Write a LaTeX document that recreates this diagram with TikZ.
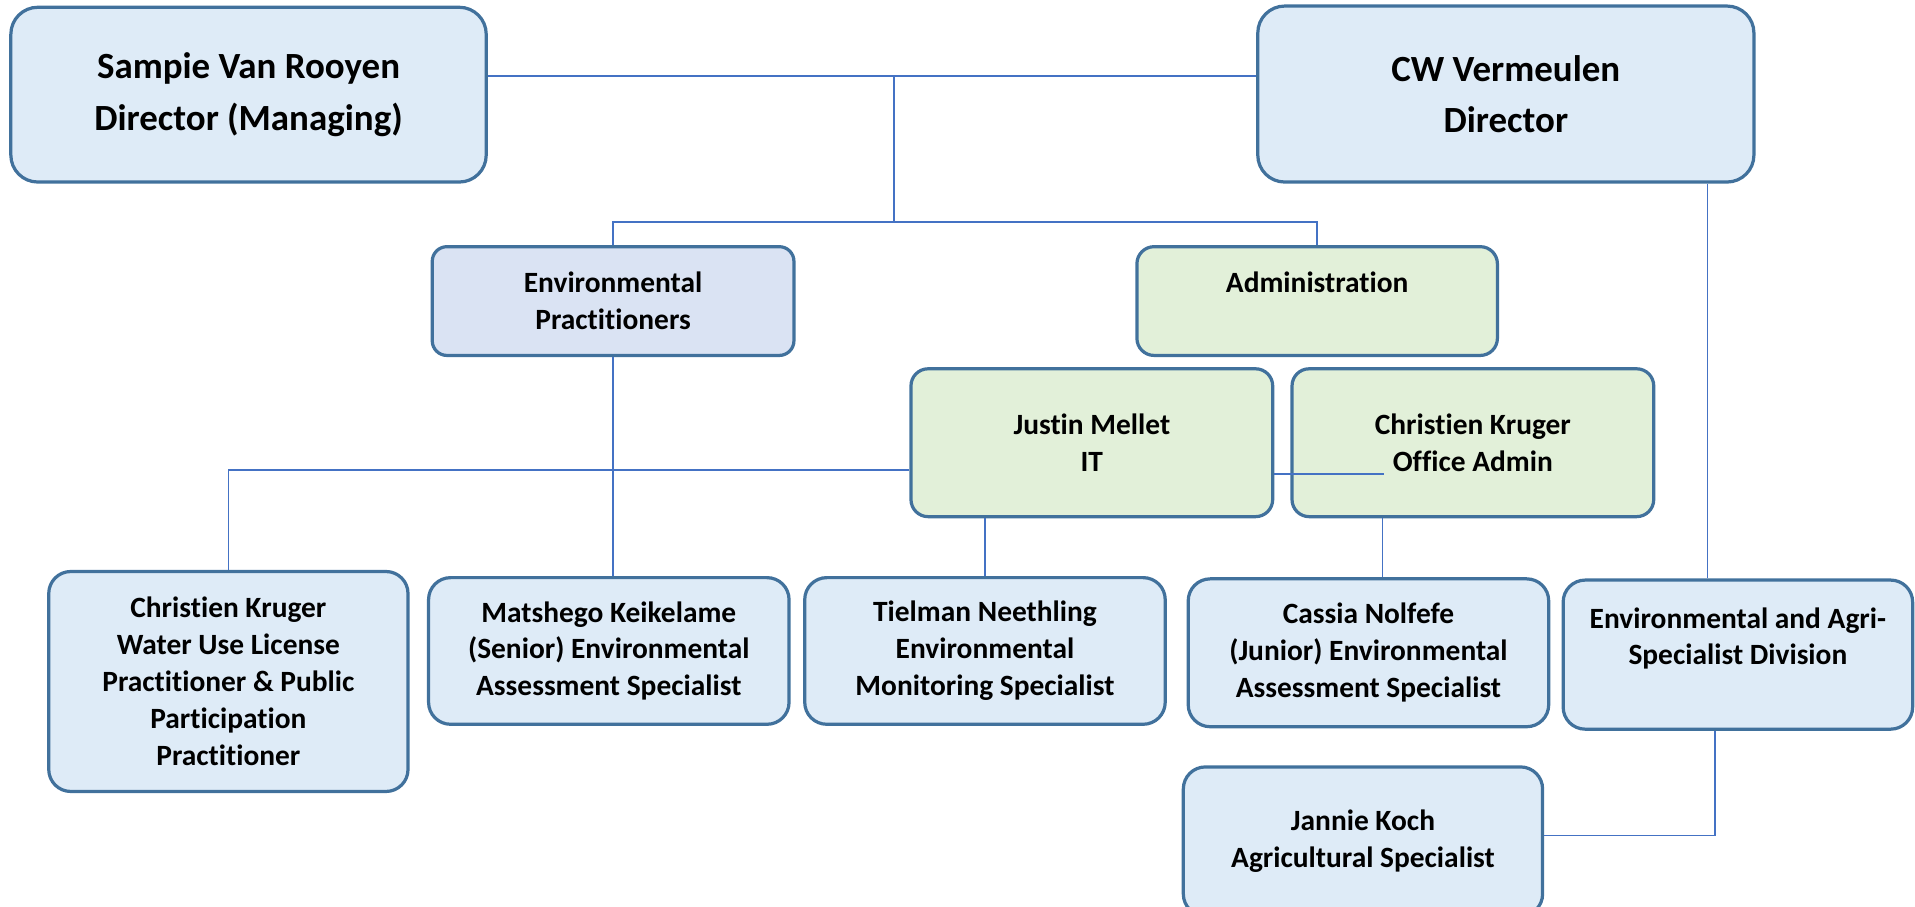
\documentclass[tikz,border=0pt]{standalone}
\usepackage{fontspec}
\setmainfont{Carlito}[Ligatures=NoCommon]
\usetikzlibrary{positioning,calc}

\definecolor{boxline}{HTML}{41719C}
\definecolor{boxblue}{HTML}{DEEBF7}
\definecolor{unitblue}{HTML}{DAE3F3}
\definecolor{boxgreen}{HTML}{E2F0D9}
\definecolor{linkblue}{HTML}{4472C4}

\begin{document}
\begin{tikzpicture}[x=0.01cm,y=-0.01cm,
  box/.style={draw=boxline,line width=0.75pt,align=center,inner sep=0pt,font=\bfseries\fontsize{6.85}{8.6}\selectfont},
  headbox/.style={box,fill=boxblue,rounded corners=0.22cm,font=\bfseries\fontsize{8.6}{12}\selectfont},
  unitbox/.style={box,fill=unitblue,rounded corners=0.12cm},
  adminbox/.style={box,fill=boxgreen,rounded corners=0.14cm},
  staffbox/.style={box,fill=boxblue,rounded corners=0.18cm},
  link/.style={draw=linkblue,line width=0.4pt}]  %% px of the 1568 wide sheet

\useasboundingbox (0,0) rectangle (1568,742);
\clip (0,0) rectangle (1568,742);

%% directors
\node[headbox,minimum width=3.89cm,minimum height=1.43cm] (sampie) at (203.5,77.5) {Sampie Van Rooyen\\Director (Managing)};
\node[headbox,minimum width=4.06cm,minimum height=1.44cm] (vermeulen) at (1233,77) {CW Vermeulen\\Director};

%% divisions
\node[unitbox,minimum width=2.96cm,minimum height=0.89cm] (envprac) at (502,246.5) {Environmental\\Practitioners};
\node[adminbox,minimum width=2.95cm,minimum height=0.89cm] (admin) at (1078.5,246.5) {Administration\\\mbox{}};
\node[adminbox,minimum width=2.96cm,minimum height=1.21cm] (mellet) at (894,362.5) {Justin Mellet\\IT};
\node[adminbox,minimum width=2.96cm,minimum height=1.21cm] (krugeradmin) at (1206,362.5) {Christien Kruger\\Office Admin};

%% staff
\node[staffbox,minimum width=2.94cm,minimum height=1.80cm] (krugerwul) at (187,558) {Christien Kruger\\Water Use License\\Practitioner \& Public\\Participation\\Practitioner};
\node[staffbox,minimum width=2.95cm,minimum height=1.20cm] (keikelame) at (498.5,533) {Matshego Keikelame\\(Senior) Environmental\\Assessment Specialist};
\node[staffbox,minimum width=2.95cm,minimum height=1.20cm] (neethling) at (806.5,533) {Tielman Neethling\\Environmental\\Monitoring Specialist};
\node[staffbox,minimum width=2.95cm,minimum height=1.21cm] (nolfefe) at (1120.5,534.5) {Cassia Nolfefe\\(Junior) Environmental\\Assessment Specialist};
\node[staffbox,minimum width=2.86cm,minimum height=1.22cm] (agrispec) at (1423,536) {Environmental and Agri-\\Specialist Division\\\mbox{}};
\node[staffbox,minimum width=2.94cm,minimum height=1.22cm] (koch) at (1116,689) {Jannie Koch\\Agricultural Specialist};

%% reporting lines
\coordinate (board) at (732,62);
\coordinate (split) at (732,182);
\draw[link] (sampie.east |- board) -- (vermeulen.west |- board);
\draw[link] (board) -- (split);
\draw[link] (envprac.north) |- (split) -| (admin.north);
\draw[link] (envprac.south) -- (envprac.south |- keikelame.north);

\coordinate (itrow) at (0,385);
\draw[link] (krugerwul.north) |- (mellet.west |- itrow);
\draw[link] (mellet.south -| neethling.north) -- (neethling.north);
\coordinate (oaend) at (1133,388);
\draw[link] (mellet.east |- oaend) -- (oaend);
\coordinate (oadrop) at (1132,0);
\draw[link] (krugeradmin.south -| oadrop) -- (nolfefe.north -| oadrop);

\coordinate (cwdrop) at (1398,0);
\draw[link] (vermeulen.south -| cwdrop) -- (agrispec.north -| cwdrop);
\coordinate (agriturn) at (1404,684);
\draw[link] (agrispec.south -| agriturn) -- (agriturn) -- (koch.east |- agriturn);

\end{tikzpicture}
\end{document}
